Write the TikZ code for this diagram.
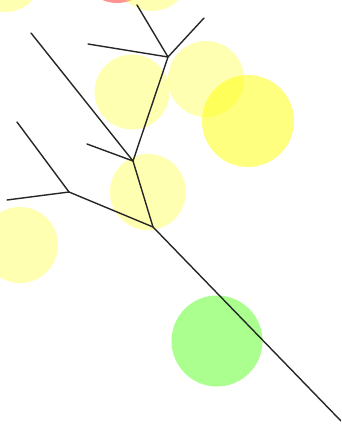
\documentclass[tikz,border=0pt]{standalone}
\usepackage{tikz}

\definecolor{leafgreen}{RGB}{85,255,30}
\definecolor{leafyellow}{RGB}{255,255,0}
\definecolor{leafred}{RGB}{255,40,40}

\begin{document}
\begin{tikzpicture}[x=1pt,y=-1pt,branch/.style={line width=1.4pt,black!85,line cap=round}]
  \clip (0,0) rectangle (341,425);
  \foreach \cx/\cy/\r/\col/\op in {5/-26/38/leafyellow/0.3,117/-34/37/leafred/0.5,152/-26/37/leafyellow/0.3,132/92/37.5/leafyellow/0.3,206/79/38/leafyellow/0.3,248/121/46/leafyellow/0.5,148/192/38/leafyellow/0.3,20/245/38/leafyellow/0.3,217/341/45.5/leafgreen/0.5}{
    \fill[\col,opacity=\op] (\cx,\cy) circle (\r pt);
  }
  \coordinate (root) at (341,421);
  \coordinate (fork) at (153,227);
  \coordinate (left) at (69,192);
  \coordinate (mid) at (133,161);
  \coordinate (top) at (168,57);
  \coordinate (l1) at (7,200);
  \coordinate (l2) at (17,122);
  \coordinate (m1) at (87,144);
  \coordinate (m2) at (31,33);
  \coordinate (t1) at (88,44);
  \coordinate (t2) at (204,18);
  \coordinate (t3) at (137,5);
  \draw[branch] (root) -- (fork) -- (left) -- (l1);
  \draw[branch] (left) -- (l2);
  \draw[branch] (fork) -- (mid) -- (top) -- (t1);
  \draw[branch] (mid) -- (m1);
  \draw[branch] (mid) -- (m2);
  \draw[branch] (top) -- (t2);
  \draw[branch] (top) -- (t3);
\end{tikzpicture}
\end{document}
